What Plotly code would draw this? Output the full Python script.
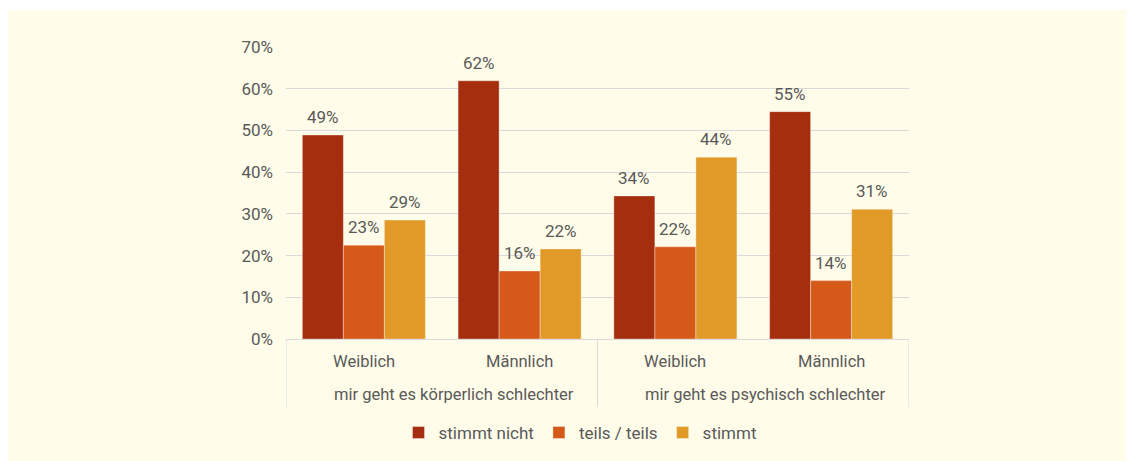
import plotly.graph_objects as go

groups = ["mir geht es körperlich schlechter", "mir geht es körperlich schlechter",
          "mir geht es psychisch schlechter", "mir geht es psychisch schlechter"]
sexes = ["Weiblich", "Männlich", "Weiblich", "Männlich"]

series_names = ["stimmt nicht", "teils / teils", "stimmt"]
stimmt_nicht = [48.9, 61.9, 34.3, 54.5]
teils_teils = [22.5, 16.3, 22.1, 14.0]
stimmt = [28.5, 21.6, 43.6, 31.1]
labels_stimmt_nicht = ["49%", "62%", "34%", "55%"]
labels_teils_teils = ["23%", "16%", "22%", "14%"]
labels_stimmt = ["29%", "22%", "44%", "31%"]
y_ticks = [0, 10, 20, 30, 40, 50, 60, 70]
y_tick_labels = ["0%", "10%", "20%", "30%", "40%", "50%", "60%", "70%"]

colors = ["#A52E0F", "#D55918", "#E19A28"]
cream = "#FFFDE9"
grid = "#D9D9DE"
text_color = "#595959"
font_family = "Roboto, 'DejaVu Sans', sans-serif"

W, H = 1126, 453
ML, MR, MT, MB = 278, 225, 39, 122
PH = H - MT - MB
BARGAP = 0.21

x_keys = [f"{g} | {s}" for g, s in zip(groups, sexes)]
all_vals = [stimmt_nicht, teils_teils, stimmt]
all_labs = [labels_stimmt_nicht, labels_teils_teils, labels_stimmt]

fig = go.Figure()
annotations = []
n_series = len(series_names)
bar_w = (1 - BARGAP) / n_series
for k, (name, vals, labs, col) in enumerate(zip(series_names, all_vals, all_labs, colors)):
    fig.add_trace(go.Bar(
        x=x_keys, y=vals, name=name,
        marker=dict(color=col, line=dict(color="rgba(255,255,255,0.35)", width=1)),
        hoverinfo="skip",
    ))
    off = (k - (n_series - 1) / 2) * bar_w
    for i, (v, lab) in enumerate(zip(vals, labs)):
        annotations.append(dict(
            x=i + off, y=v, xref="x", yref="y", text=lab, showarrow=False,
            yanchor="bottom", yshift=6,
            font=dict(family=font_family, size=17, color=text_color)))

# category labels
for i, s in enumerate(sexes):
    annotations.append(dict(x=i, y=-22 / PH, xref="x", yref="paper", text=s,
                            showarrow=False, yanchor="middle",
                            font=dict(family=font_family, size=16.5, color=text_color)))
group_names = list(dict.fromkeys(groups))
shapes = []
boundaries = []
for g in group_names:
    idx = [i for i, gg in enumerate(groups) if gg == g]
    annotations.append(dict(x=sum(idx) / len(idx), y=-56 / PH, xref="x", yref="paper",
                            text=g, showarrow=False, yanchor="middle", xshift=12,
                            font=dict(family=font_family, size=16.5, color=text_color)))
    boundaries.append(idx[0] - 0.5)
boundaries.append(len(groups) - 0.5)
for b in boundaries:
    shapes.append(dict(type="line", xref="x", yref="paper", x0=b, x1=b,
                       y0=0, y1=-68 / PH, line=dict(color=grid, width=1)))

shapes.insert(0, dict(type="rect", xref="paper", yref="paper",
                      x0=-ML / (W - ML - MR), x1=1 + MR / (W - ML - MR),
                      y0=-MB / PH, y1=1 + (MT - 2) / PH,
                      fillcolor=cream, line=dict(width=0), layer="below"))

fig.update_layout(
    width=W, height=H,
    margin=dict(l=ML, r=MR, t=MT, b=MB, autoexpand=False),
    paper_bgcolor="white", plot_bgcolor=cream,
    barmode="group", bargap=BARGAP, bargroupgap=0,
    font=dict(family=font_family, size=16, color=text_color),
    showlegend=True,
    legend=dict(orientation="h", x=(580 - 8 - ML) / (W - ML - MR), xanchor="center",
                y=(331 - 425) / PH, yanchor="middle",
                font=dict(size=17, color=text_color), bgcolor="rgba(0,0,0,0)",
                traceorder="normal"),
    shapes=shapes,
    annotations=annotations,
)
fig.update_xaxes(type="category", showline=True, linecolor=grid, linewidth=1,
                 showticklabels=False, showgrid=False, ticks="",
                 range=[-0.5, len(groups) - 0.5])
fig.update_yaxes(range=[0, 70], tickvals=y_ticks, ticktext=y_tick_labels,
                 showgrid=True, gridcolor=grid, gridwidth=1, zeroline=False,
                 tickfont=dict(size=17, color=text_color), ticks="", ticklabelstandoff=12,
                 showline=False)

fig.write_html("out.html")
